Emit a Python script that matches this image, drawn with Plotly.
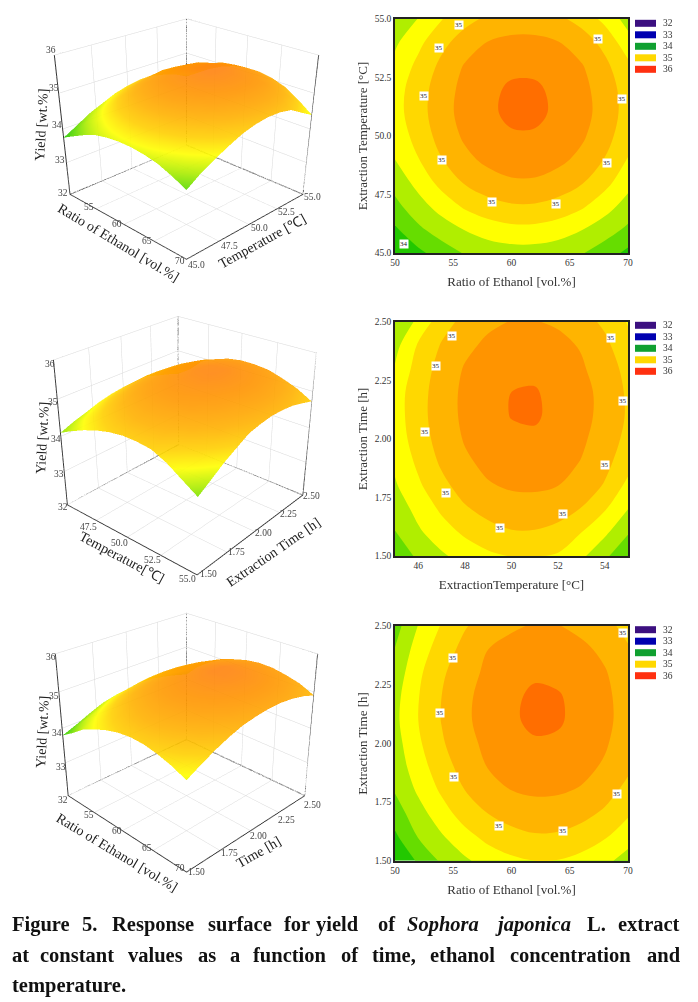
import plotly.graph_objects as go

W, H = 698, 1002
SERIF = "Liberation Serif"

# ---------- data ----------
ethanol = [50, 52, 54, 56, 58, 60, 62, 64, 66, 68, 70]
temp = [45, 46, 47, 48, 49, 50, 51, 52, 53, 54, 55]
time_h = [1.5, 1.6, 1.7, 1.8, 1.9, 2.0, 2.1, 2.2, 2.3, 2.4, 2.5]

yield_eth_temp = [
    [33.75, 33.94, 34.12, 34.27, 34.35, 34.39, 34.39, 34.35, 34.27, 34.12, 33.94],
    [33.96, 34.20, 34.37, 34.51, 34.62, 34.68, 34.68, 34.62, 34.51, 34.37, 34.20],
    [34.18, 34.40, 34.60, 34.79, 34.91, 34.97, 34.97, 34.91, 34.79, 34.60, 34.40],
    [34.34, 34.58, 34.83, 35.02, 35.14, 35.22, 35.22, 35.14, 35.02, 34.83, 34.58],
    [34.50, 34.74, 34.99, 35.19, 35.31, 35.35, 35.35, 35.31, 35.19, 34.99, 34.74],
    [34.60, 34.84, 35.10, 35.29, 35.40, 35.47, 35.47, 35.40, 35.29, 35.10, 34.84],
    [34.66, 34.89, 35.16, 35.33, 35.45, 35.56, 35.56, 35.45, 35.33, 35.16, 34.89],
    [34.65, 34.88, 35.14, 35.32, 35.44, 35.54, 35.54, 35.44, 35.32, 35.14, 34.88],
    [34.57, 34.81, 35.06, 35.27, 35.36, 35.44, 35.44, 35.36, 35.27, 35.06, 34.81],
    [34.46, 34.69, 34.93, 35.12, 35.26, 35.31, 35.31, 35.26, 35.12, 34.93, 34.60],
    [34.28, 34.51, 34.74, 34.92, 35.05, 35.12, 35.12, 35.05, 34.92, 34.68, 34.40],
]
yield_temp_time = [
    [34.10, 34.29, 34.46, 34.60, 34.70, 34.76, 34.76, 34.72, 34.55, 34.30, 34.05],
    [34.24, 34.46, 34.64, 34.79, 34.91, 34.98, 34.98, 34.93, 34.75, 34.55, 34.27],
    [34.35, 34.58, 34.79, 34.97, 35.08, 35.14, 35.14, 35.09, 34.99, 34.77, 34.50],
    [34.47, 34.71, 34.93, 35.11, 35.23, 35.28, 35.29, 35.25, 35.13, 34.98, 34.68],
    [34.55, 34.80, 35.04, 35.21, 35.31, 35.37, 35.37, 35.33, 35.24, 35.07, 34.86],
    [34.60, 34.88, 35.10, 35.27, 35.37, 35.45, 35.46, 35.39, 35.29, 35.14, 34.93],
    [34.63, 34.91, 35.13, 35.30, 35.41, 35.51, 35.53, 35.43, 35.32, 35.18, 34.97],
    [34.63, 34.90, 35.13, 35.30, 35.41, 35.50, 35.52, 35.42, 35.32, 35.18, 34.96],
    [34.52, 34.86, 35.09, 35.27, 35.36, 35.43, 35.44, 35.38, 35.28, 35.13, 34.92],
    [34.42, 34.78, 35.02, 35.19, 35.30, 35.35, 35.36, 35.31, 35.23, 35.06, 34.83],
    [34.30, 34.55, 34.90, 35.07, 35.20, 35.26, 35.26, 35.22, 35.10, 34.95, 34.73],
]
yield_eth_time = [
    [33.80, 34.03, 34.29, 34.46, 34.60, 34.70, 34.75, 34.74, 34.67, 34.56, 34.40],
    [33.95, 34.26, 34.47, 34.66, 34.82, 34.92, 34.97, 34.96, 34.89, 34.77, 34.60],
    [34.12, 34.40, 34.64, 34.86, 35.00, 35.09, 35.14, 35.13, 35.07, 34.96, 34.78],
    [34.27, 34.54, 34.79, 35.00, 35.15, 35.25, 35.29, 35.28, 35.23, 35.10, 34.93],
    [34.35, 34.64, 34.89, 35.10, 35.26, 35.34, 35.38, 35.37, 35.32, 35.22, 35.05],
    [34.40, 34.71, 34.97, 35.17, 35.31, 35.41, 35.47, 35.46, 35.38, 35.28, 35.11],
    [34.44, 34.75, 35.01, 35.21, 35.34, 35.46, 35.56, 35.53, 35.42, 35.31, 35.15],
    [34.42, 34.74, 35.00, 35.20, 35.34, 35.45, 35.55, 35.52, 35.42, 35.30, 35.15],
    [34.35, 34.70, 34.96, 35.16, 35.30, 35.40, 35.46, 35.44, 35.37, 35.27, 35.11],
    [34.26, 34.62, 34.87, 35.08, 35.25, 35.32, 35.36, 35.35, 35.30, 35.20, 35.03],
    [34.15, 34.51, 34.77, 34.98, 35.12, 35.22, 35.27, 35.26, 35.19, 35.09, 34.91],
]

band_colors = ["#22c800", "#66dd00", "#b0ee00", "#ffff00", "#ffd800", "#ffb400", "#ff9400", "#ff6e00"]
legend_levels = ["32", "33", "34", "35", "36"]
legend_colors = ["#3c1080", "#0000b0", "#10a030", "#ffd800", "#ff3010"]

ticks_eth_3d = [55, 60, 65, 70]
ticks_temp_3d = [45.0, 47.5, 50.0, 52.5, 55.0]
ticks_temp_3d_b = [47.5, 50.0, 52.5, 55.0]
ticks_time = [1.5, 1.75, 2.0, 2.25, 2.5]
ticks_yield = [32, 33, 34, 35, 36]
ticks_eth = [50, 55, 60, 65, 70]
ticks_temp = [45.0, 47.5, 50.0, 52.5, 55.0]
ticks_temp_b = [46, 48, 50, 52, 54]

labels_a = [(55.5, 54.76, "35"), (53.8, 53.78, "35"), (52.5, 51.7, "35"), (54, 48.98, "35"), (58.3, 47.2, "35"),
            (63.8, 47.1, "35"), (68.2, 48.85, "35"), (69.5, 51.56, "35"), (67.4, 54.13, "35"), (50.8, 45.38, "34")]
labels_b = [(47.43, 2.44, "35"), (46.74, 2.31, "35"), (46.3, 2.03, "35"), (47.17, 1.77, "35"), (49.49, 1.62, "35"),
            (52.19, 1.68, "35"), (54.03, 1.89, "35"), (54.79, 2.16, "35"), (54.29, 2.43, "35")]
labels_c = [(54.94, 2.365, "35"), (53.89, 2.13, "35"), (55.06, 1.857, "35"), (58.94, 1.65, "35"),
            (64.46, 1.626, "35"), (69.09, 1.784, "35"), (69.6, 2.47, "35")]

titles_3d = [
    ("Yield [wt.%]", 42, 125, -87), ("Ratio of Ethanol [vol.%]", 118, 243, 31), ("Temperature [℃]", 262, 242, -29),
    ("Yield [wt.%]", 42, 438, -87), ("Temperature[℃]", 122, 557, 28), ("Extraction Time [h]", 273, 552, -34.6),
    ("Yield [wt.%]", 42, 732, -87), ("Ratio of Ethanol [vol.%]", 117, 852, 31), ("Time [h]", 258, 852, -30),
]

# 3-D axis tick captions: (panel top, [(text, x*3, y*3)])
tick_text_3d = [
    (0, [("36", 152, 150), ("35", 163, 265), ("34", 170, 375), ("33", 180, 480), ("32", 190, 578),
         ("55", 268, 622), ("60", 352, 672), ("65", 440, 722), ("70", 540, 782),
         ("45.0", 590, 795), ("47.5", 687, 737), ("50.0", 778, 685), ("52.5", 860, 637), ("55.0", 938, 592)]),
    (300, [("36", 150, 192), ("35", 158, 305), ("34", 168, 417), ("33", 178, 522), ("32", 190, 620),
           ("47.5", 265, 680), ("50.0", 358, 730), ("52.5", 457, 780), ("55.0", 562, 836),
           ("1.50", 625, 822), ("1.75", 708, 757), ("2.00", 790, 698), ("2.25", 865, 642), ("2.50", 935, 588)]),
    (600, [("36", 152, 172), ("35", 163, 288), ("34", 170, 398), ("33", 182, 500), ("32", 190, 600),
           ("55", 268, 645), ("60", 352, 693), ("65", 440, 745), ("70", 540, 803),
           ("1.50", 590, 817), ("1.75", 688, 760), ("2.00", 775, 708), ("2.25", 860, 660), ("2.50", 938, 614)]),
]

caption = [
    (924, [(11, "Figure"), (81, "5."), (111, "Response"), (207, "surface"), (283, "for"), (315, "yield"), (377, "of"),
           (406, "<i>Sophora</i>"), (494, "<i>japonica</i>"), (586, "L."), (617, "extract")]),
    (955, [(11, "at"), (39, "constant"), (127, "values"), (197, "as"), (229, "a"), (252, "function"), (340, "of"),
           (371, "time,"), (429, "ethanol"), (509, "concentration"), (646, "and")]),
    (985, [(11, "temperature.")]),
]

# ---------- helpers ----------
def px(x):
    return x / W

def py(y):
    return 1 - y / H

step_scale = []
n = len(band_colors)
for i, c in enumerate(band_colors):
    step_scale += [[i / n, c], [(i + 1) / n, c]]

smooth_scale = [[0, "#22c800"], [0.12, "#66dd00"], [0.24, "#b0ee00"], [0.38, "#ffff00"], [0.52, "#ffd000"],
                [0.68, "#ffb000"], [0.86, "#ff9400"], [1, "#ff8010"]]

fig = go.Figure()
annotations, shapes = [], []

def axis3d(vals, rng):
    return dict(title=dict(text=""), range=rng, tickvals=vals, showticklabels=False,
                showbackground=False, gridcolor="#d8d8d8", gridwidth=1,
                showline=True, linecolor="#333", linewidth=2, zeroline=False,
                showspikes=False, ticks="")

def add_surface(sid, xs, ys, zs):
    fig.add_trace(go.Surface(x=xs, y=ys, z=zs, scene=sid, colorscale=smooth_scale, cmin=33.75, cmax=35.6,
                             showscale=False, opacity=0.9,
                             lighting=dict(ambient=1, diffuse=0, specular=0, roughness=1, fresnel=0)))
    # rear rim of the axis box, taken from the axis extents
    x0, x1, y0, y1, z0, z1 = xs[0], xs[-1], ys[0], ys[-1], ticks_yield[0], ticks_yield[-1]
    fig.add_trace(go.Scatter3d(
        x=[x0, x0, x1, x1, None, x0, x0, None, x0, x0, x1],
        y=[y0, y1, y1, y1, None, y1, y1, None, y0, y1, y1],
        z=[z1, z1, z1, z0, None, z0, z1, None, z0, z0, z0],
        mode="lines", line=dict(color="#444", width=2), scene=sid, hoverinfo="skip", showlegend=False))

add_surface("scene", ethanol, temp, yield_eth_temp)
add_surface("scene2", temp, time_h, yield_temp_time)
add_surface("scene3", ethanol, time_h, yield_eth_time)

zaxis = axis3d(ticks_yield, [32, 36])

def scene(top, bottom, xa, ya, eye, center, zr):
    return dict(domain=dict(x=[0, 373 / W], y=[py(bottom), py(top)]), xaxis=xa, yaxis=ya, zaxis=zaxis,
                aspectmode="manual", aspectratio=dict(x=1, y=1, z=zr),
                camera=dict(eye=eye, center=center, up=dict(x=0, y=0, z=1)),
                bgcolor="rgba(0,0,0,0)")

scene1 = scene(0, 570, axis3d(ticks_eth_3d, [50, 70]), axis3d(ticks_temp_3d, [45, 55]),
               dict(x=2.617, y=-2.617, z=1.589), dict(x=0.37, y=-0.37, z=-0.72), 0.84)
scene2 = scene(158, 728, axis3d(ticks_temp_3d_b, [45, 55]), axis3d(ticks_time, [1.5, 2.5]),
               dict(x=2.267, y=-2.644, z=1.773), dict(x=0.019, y=-0.022, z=-0.055), 0.912)
scene3 = scene(432, 1002, axis3d(ticks_eth_3d, [50, 70]), axis3d(ticks_time, [1.5, 2.5]),
               dict(x=2.457, y=-2.457, z=1.795), dict(x=-0.02, y=0.02, z=0.058), 0.905)

for text, cx, cy, ang in titles_3d:
    annotations.append(dict(x=px(cx), y=py(cy), xref="paper", yref="paper", text=text, textangle=ang, showarrow=False,
                            xanchor="center", yanchor="middle", font=dict(family=SERIF, size=14, color="#222")))

for origin, items in tick_text_3d:
    for text, zx, zy in items:
        annotations.append(dict(x=px(zx / 3), y=py(origin + zy / 3), xref="paper", yref="paper", text=text,
                                showarrow=False, xanchor="center", yanchor="middle",
                                font=dict(family=SERIF, size=9.5, color="#444")))

panels = [
    (1, ethanol, temp, yield_eth_temp, 19, 253, "Ratio of Ethanol [vol.%]", "Extraction Temperature [°C]",
     ticks_eth, "{:d}", ticks_temp, "{:.1f}", labels_a, 23.3),
    (2, temp, time_h, yield_temp_time, 321.7, 556, "ExtractionTemperature [°C]", "Extraction Time [h]",
     ticks_temp_b, "{:d}", ticks_time, "{:.2f}", labels_b, 325.3),
    (3, ethanol, time_h, yield_eth_time, 626, 860.7, "Ratio of Ethanol [vol.%]", "Extraction Time [h]",
     ticks_eth, "{:d}", ticks_time, "{:.2f}", labels_c, 629.7),
]

axes = {}
for idx, xs, ys, zs, top, bot, xt, yt, xv, xf, yv, yf, labels, leg_y in panels:
    sx = "" if idx == 1 else str(idx)
    fig.add_trace(go.Contour(x=xs, y=ys, z=zs, xaxis="x" + sx, yaxis="y" + sx, zmin=33.75, zmax=35.75,
                             colorscale=step_scale, showscale=False, autocontour=False,
                             contours=dict(start=34, end=35.5, size=0.25, coloring="fill", showlines=False),
                             line=dict(width=0)))
    common = dict(showgrid=False, zeroline=False, showline=True, mirror=True, linecolor="#222", linewidth=1.5,
                  ticks="", automargin=False, tickfont=dict(family=SERIF, size=9.5, color="#333"))
    axes["xaxis" + sx] = dict(domain=[395 / W, 628 / W], anchor="y" + sx, range=[xs[0], xs[-1]], tickvals=xv,
                              ticktext=[xf.format(v) for v in xv],
                              title=dict(text=xt, font=dict(family=SERIF, size=13, color="#333"), standoff=10),
                              **common)
    axes["yaxis" + sx] = dict(domain=[py(bot), py(top)], anchor="x" + sx, range=[ys[0], ys[-1]], tickvals=yv,
                              ticktext=[yf.format(v) for v in yv],
                              title=dict(text=yt, font=dict(family=SERIF, size=13, color="#333"), standoff=4),
                              **common)
    for lx, ly, t in labels:
        annotations.append(dict(x=lx, y=ly, xref="x" + sx, yref="y" + sx, text=t, showarrow=False, bgcolor="white",
                                borderpad=0, font=dict(family=SERIF, size=7, color="#222")))
    for i, (lev, col) in enumerate(zip(legend_levels, legend_colors)):
        yc = leg_y + i * 11.5
        shapes.append(dict(type="rect", xref="paper", yref="paper", x0=px(635), x1=px(656), y0=py(yc - 3.5),
                           y1=py(yc + 3.5), fillcolor=col, line=dict(width=0)))
        annotations.append(dict(x=px(661), y=py(yc), xref="paper", yref="paper", xanchor="left", yanchor="middle",
                                text=lev, showarrow=False, font=dict(family=SERIF, size=9.5, color="#333")))

for yc, words in caption:
    for x0, w in words:
        annotations.append(dict(x=px(x0), y=py(yc), xref="paper", yref="paper", xanchor="left", yanchor="middle",
                                xshift=-1, text="<b>" + w + "</b>", showarrow=False,
                                font=dict(family=SERIF, size=20.5, color="#111")))

fig.update_layout(width=W, height=H, margin=dict(l=0, r=0, t=0, b=0), paper_bgcolor="white", plot_bgcolor="white",
                  showlegend=False, scene=scene1, scene2=scene2, scene3=scene3, annotations=annotations, shapes=shapes,
                  **axes)

fig.write_html("out.html", config=dict(displayModeBar=False),
               post_script="document.body.style.margin='0';document.documentElement.style.overflow='hidden';")
